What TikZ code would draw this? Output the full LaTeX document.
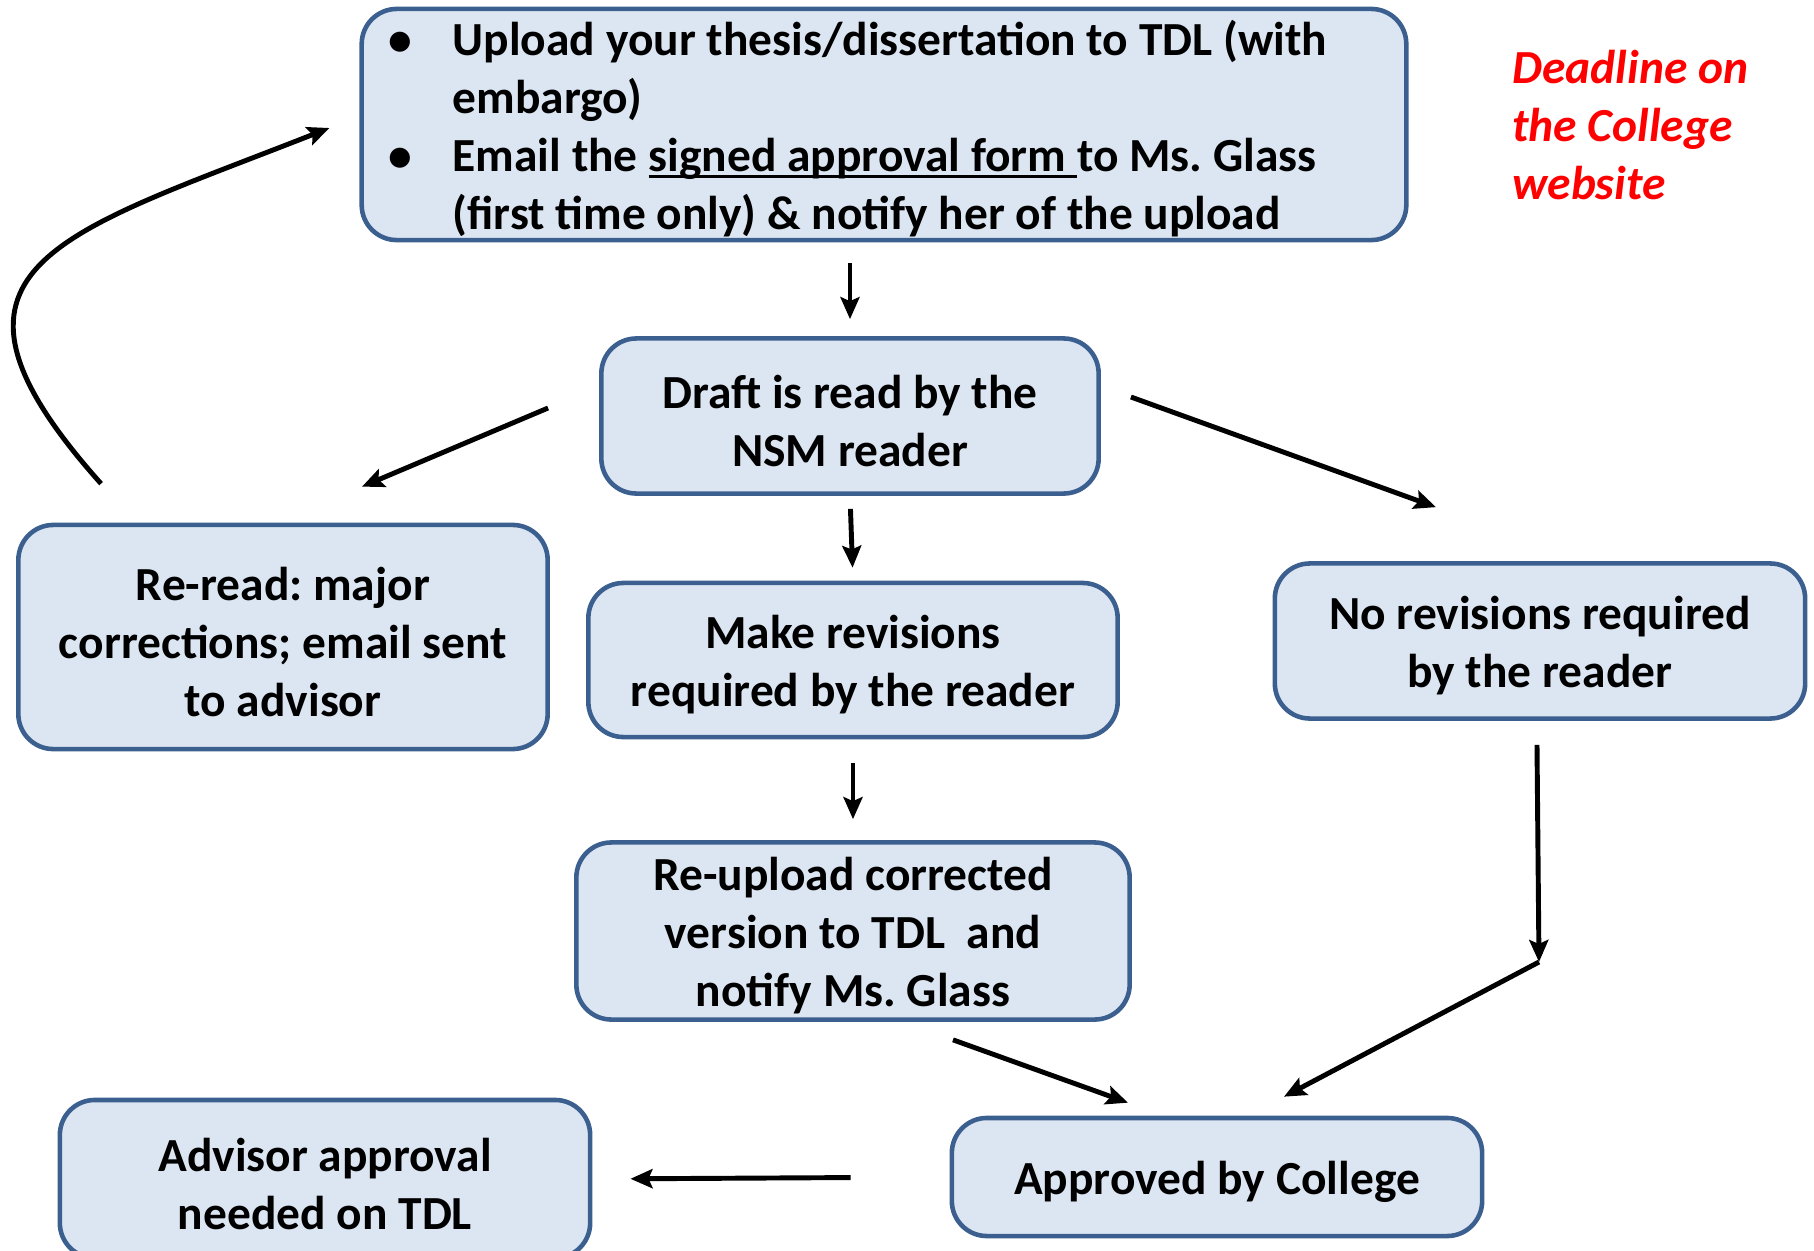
\documentclass[tikz,border=0pt]{standalone}
\usepackage{fontspec}
\setmainfont{Carlito}
\usetikzlibrary{calc}
\usetikzlibrary{arrows.meta}
\definecolor{boxfill}{HTML}{DCE6F2}
\definecolor{boxline}{HTML}{3B5F8E}
\frenchspacing
\newcommand{\bulletitem}{\makebox[0.64cm][l]{\textbullet}}
\newcommand{\formline}[1]{\setbox0\hbox{#1}\rlap{\rule[-0.15em]{\wd0}{0.07em}}\box0}
\tikzset{
        % Process boxes: width, height
        flow_box/.style 2 args={rectangle, rounded corners=0.35cm, draw=boxline, line width=1.3pt, fill=boxfill,
                         align=flush center, inner xsep=0.27cm, inner ysep=0.03cm,
                         minimum width=#1, minimum height=#2, text width=#1-0.54cm,
                         font=\bfseries\fontsize{13.5}{16.5}\selectfont,
                         execute at begin node={\rule{0pt}{0.9em}}},
        % Arrows between boxes
        flow_arrow/.style={line width=1.4pt, -{Stealth[length=0.22cm,width=0.19cm,inset=0.04cm]}},
        % Side note
        note_text/.style={align=left, red, font=\bfseries\itshape\fontsize{13.5}{16.5}\selectfont}
}
\begin{document}
\begin{tikzpicture}[x=0.01cm, y=-0.01cm]
    \useasboundingbox (0,0) rectangle (1814,1251);
    \node[flow_box={10.44cm}{2.31cm}, align=flush left] (upload) at (884,124.5)
        {\bulletitem Upload your thesis/dissertation to TDL (with\\
         \hspace*{0.64cm}embargo)\\
         \bulletitem Email the \formline{signed approval form }to Ms. Glass\\
         \hspace*{0.64cm}(first time only) \& notify her of the upload};
    \node[note_text, anchor=west] (deadline) at (1500,125) {Deadline on\\the College\\website};
    \node[flow_box={4.97cm}{1.55cm}] (draft) at (850,416) {Draft is read by the\\NSM reader};
    \node[flow_box={5.29cm}{2.24cm}] (reread) at (283,637) {Re-read: major\\corrections; email sent\\to advisor};
    \node[flow_box={5.29cm}{1.54cm}] (revise) at (853,660) {Make revisions\\required by the reader};
    \node[flow_box={5.30cm}{1.55cm}] (norevise) at (1540,641) {No revisions required\\by the reader};
    \node[flow_box={5.53cm}{1.77cm}] (reupload) at (853,931) {Re-upload corrected\\version to TDL~ and\\notify Ms. Glass};
    \node[flow_box={5.30cm}{1.58cm}] (advisor) at (325,1179) {Advisor approval\\needed on TDL};
    \node[flow_box={5.30cm}{1.18cm}] (approved) at (1217,1177) {Approved by College};
    \coordinate (bend) at (1539,962);

    % arrows
    \draw[flow_arrow, shorten <=0.21cm, shorten >=0.17cm] (draft.north |- upload.south) -- (draft.north);
    \draw[flow_arrow, shorten <=0.13cm, shorten >=0.13cm] (draft.south) -- (revise.north);
    \draw[flow_arrow, shorten <=0.24cm, shorten >=0.21cm] (revise.south) -- (reupload.north);
    \draw[flow_arrow] ($(draft.west)+(-51,-8)$) -- ($(reread.north)+(79,-36)$);
    \draw[flow_arrow] ($(draft.east)+(30,-19)$) -- ($(norevise.north)+(-104,-54)$);
    \draw[flow_arrow] ($(norevise.south)+(-3,24)$) -- (bend);
    \draw[flow_arrow] (bend) -- ($(approved.north)+(67,-19)$);
    \draw[flow_arrow] ($(reupload.south)+(100,18)$) -- ($(approved.north)+(-89,-13)$);
    \draw[flow_arrow, shorten <=0.99cm, shorten >=0.38cm] (approved.west) -- (advisor.east);
    \draw[flow_arrow] ($(reread.north west)+(85,-39)$) .. controls +(-193,-216) and +(-272,107) .. ($(upload.west)+(-30,3.5)$);
\end{tikzpicture}
\end{document}
